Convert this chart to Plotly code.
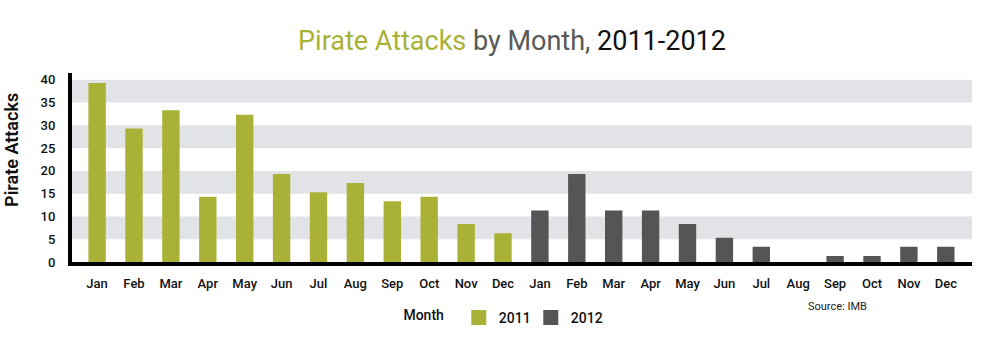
import plotly.graph_objects as go

months = ["Jan", "Feb", "Mar", "Apr", "May", "Jun", "Jul", "Aug", "Sep", "Oct", "Nov", "Dec"]
attacks_2011 = [39, 29, 33, 14, 32, 19, 15, 17, 13, 14, 8, 6]
attacks_2012 = [11, 19, 11, 11, 8, 5, 3, 0, 1, 1, 3, 3]
y_ticks = [0, 5, 10, 15, 20, 25, 30, 35, 40]
bands = [(5, 10), (15, 20), (25, 30), (35, 40)]

GREEN = "#a9b136"
DARK = "#555555"
BAND = "#e2e3e6"
FONT = "Roboto, Liberation Sans Narrow, sans-serif"
EDGE = 3

cats_2011 = [f"{m} 2011" for m in months]
cats_2012 = [f"{m} 2012" for m in months]
all_cats = cats_2011 + cats_2012


def edges(values):
    return [EDGE if v > 0 else 0 for v in values]


fig = go.Figure()
fig.add_trace(go.Bar(x=cats_2011, y=attacks_2011, name="2011", marker_color=GREEN,
                     marker_line=dict(color=GREEN, width=edges(attacks_2011)), width=0.39))
fig.add_trace(go.Bar(x=cats_2012, y=attacks_2012, name="2012", marker_color=DARK,
                     marker_line=dict(color=DARK, width=edges(attacks_2012)), width=0.39))

for lo, hi in bands:
    fig.add_shape(type="rect", xref="paper", yref="y", x0=0, x1=1, y0=lo, y1=hi,
                  fillcolor=BAND, line_width=0, layer="below")

fig.update_layout(
    width=1000, height=360,
    margin=dict(l=72, r=28, t=73, b=98, autoexpand=False),
    paper_bgcolor="white", plot_bgcolor="white",
    barmode="overlay",
    font=dict(family=FONT, color="#111111", size=13),
    title=dict(
        text="<span style='color:#a9b136'>Pirate Attacks</span> "
             "<span style='color:#595959'>by Month,</span> "
             "<span style='color:#111111'>2011-2012</span>",
        x=0.512, xanchor="center", y=0.886, yanchor="middle",
        font=dict(family=FONT, size=27),
    ),
    xaxis=dict(
        categoryorder="array", categoryarray=all_cats,
        tickmode="array", tickvals=all_cats, ticktext=months + months,
        range=[-0.68, 23.71], automargin=False,
        showline=True, linecolor="black", linewidth=4,
        showgrid=False, zeroline=False, ticks="", ticklabelstandoff=6,
        tickfont=dict(size=13, color="#111111", weight=500),
    ),
    yaxis=dict(
        range=[0, 41.5], tickmode="array", tickvals=y_ticks, automargin=False,
        showline=True, linecolor="black", linewidth=4,
        showgrid=False, zeroline=False, ticks="", ticklabelstandoff=10,
        tickfont=dict(size=13, color="#111111", weight=500),
    ),
    legend=dict(
        orientation="h", x=0.366, xanchor="left", y=-0.296, yanchor="middle",
        title=dict(text="Month  ", side="left",
                   font=dict(size=14, color="#111111", weight=500)),
        font=dict(size=14, color="#111111", weight=500), itemwidth=30,
        entrywidth=27,
        bgcolor="rgba(0,0,0,0)",
    ),
    showlegend=True,
)

fig.add_annotation(text="Pirate Attacks", textangle=-90, xref="paper", yref="paper",
                   x=-0.0667, y=0.593, xanchor="center", yanchor="middle", showarrow=False,
                   font=dict(size=18, color="#111111", weight=600))

fig.add_annotation(text="Source: IMB", xref="paper", yref="paper", x=0.886, y=-0.238,
                   xanchor="right", yanchor="middle", showarrow=False,
                   font=dict(size=11, color="#222222"))

fig.write_html("out.html", config={"displayModeBar": False},
               post_script="document.body.style.margin='0';")
